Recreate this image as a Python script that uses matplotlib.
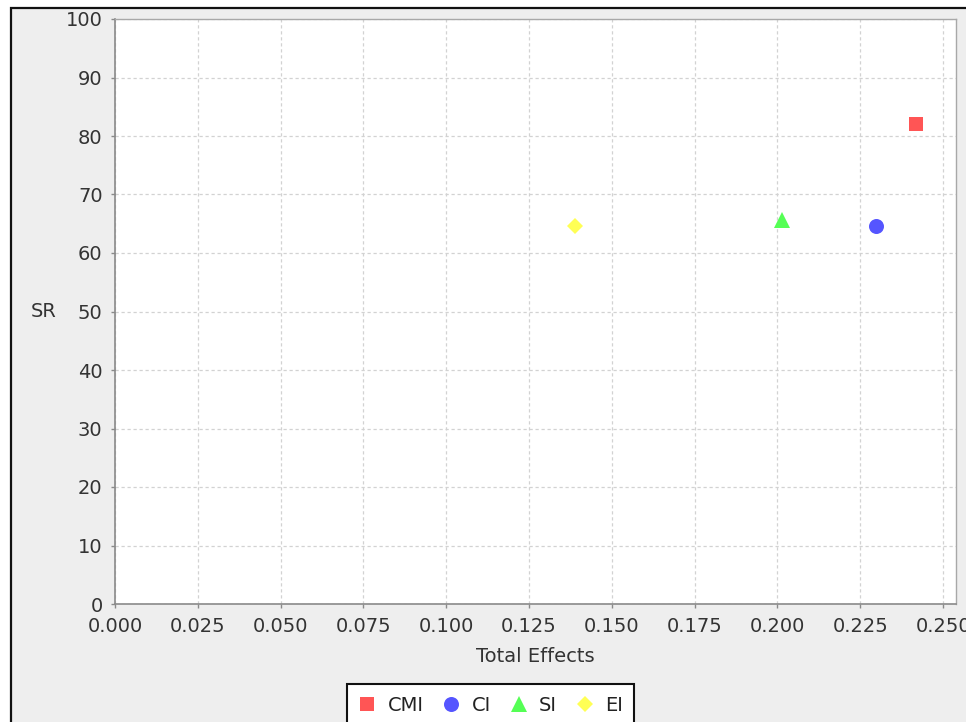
import matplotlib
matplotlib.use("Agg")
import matplotlib.pyplot as plt
from matplotlib.patches import Rectangle
import numpy as np

# Data
series_names = ["CMI", "CI", "SI", "EI"]
total_effects = [0.2417, 0.2297, 0.2014, 0.1390]
sr_values = [82.1, 64.7, 65.7, 64.7]
colors = ["#FF5555", "#5555FF", "#55FF55", "#FFFF55"]
markers = ["s", "o", "^", "D"]
marker_sizes = [10, 10.8, 11.5, 7.8]
x_ticks = [0.000, 0.025, 0.050, 0.075, 0.100, 0.125, 0.150, 0.175, 0.200, 0.225, 0.250]
y_ticks = [0, 10, 20, 30, 40, 50, 60, 70, 80, 90, 100]

W, H = 966, 722
fig = plt.figure(figsize=(W / 100, H / 100), dpi=100, facecolor="white")
plt.rcParams['font.family'] = ['DejaVu Sans']

# Panel background with dark border (top and left visible)
panel = Rectangle((11 / W, -0.2), 1.2, (722 - 8) / H + 0.2, transform=fig.transFigure,
                  facecolor="#EEEEEE", edgecolor="#111111", linewidth=1.6, zorder=-10)
fig.patches.append(panel)

left, right, top, bottom = 115, 956, 19, 604
ax = fig.add_axes([left / W, (H - bottom) / H, (right - left) / W, (bottom - top) / H])
ax.set_facecolor("white")

for name, x, y, c, m, ms in zip(series_names, total_effects, sr_values, colors, markers, marker_sizes):
    ax.plot([x], [y], linestyle="none", marker=m, markersize=ms, color=c,
            markeredgewidth=0, label=name, zorder=3)

ax.set_xlim(0, 0.2539)
ax.set_ylim(0, 100)
ax.set_xticks(x_ticks)
ax.set_xticklabels([f"{v:.3f}" for v in x_ticks])
ax.set_yticks(y_ticks)
ax.set_yticklabels([str(v) for v in y_ticks])

ax.grid(True, color="#D2D2D2", linestyle=(0, (2.6, 2.2)), linewidth=0.9)
ax.set_axisbelow(True)

for s in ["left", "bottom"]:
    ax.spines[s].set_color("#8A8A8A")
    ax.spines[s].set_linewidth(1.2)
for s in ["top", "right"]:
    ax.spines[s].set_color("#A8A8A8")
    ax.spines[s].set_linewidth(1.0)

ax.tick_params(axis="both", colors="#8A8A8A", labelcolor="#333333", labelsize=14,
               length=3, width=1, direction="out")
ax.tick_params(axis="x", pad=6)
ax.tick_params(axis="y", pad=6)

ax.set_xlabel("Total Effects", fontsize=14, color="#333333")
ax.xaxis.set_label_coords((535 - left) / (right - left), -(656 - bottom) / (bottom - top))
ax.xaxis.label.set_va("center")
ax.set_ylabel("SR", fontsize=14, color="#333333", rotation=0)
ax.yaxis.set_label_coords((44 - left) / (right - left), 0.5)
ax.yaxis.label.set_va("center")
ax.yaxis.label.set_ha("center")

handles, labels = ax.get_legend_handles_labels()
leg = fig.legend(handles, labels, loc="upper center", ncol=4,
                 bbox_to_anchor=(490.5 / W, (H - 684) / H),
                 fontsize=14, frameon=True, fancybox=False, framealpha=1,
                 edgecolor="#111111", facecolor="white",
                 handlelength=0.93, handletextpad=0.58, columnspacing=0.96,
                 borderpad=0.6, borderaxespad=0, numpoints=1)
leg.get_frame().set_linewidth(1.5)
for t in leg.get_texts():
    t.set_color("#222222")

fig.savefig("out.png", dpi=100, facecolor=fig.get_facecolor())
